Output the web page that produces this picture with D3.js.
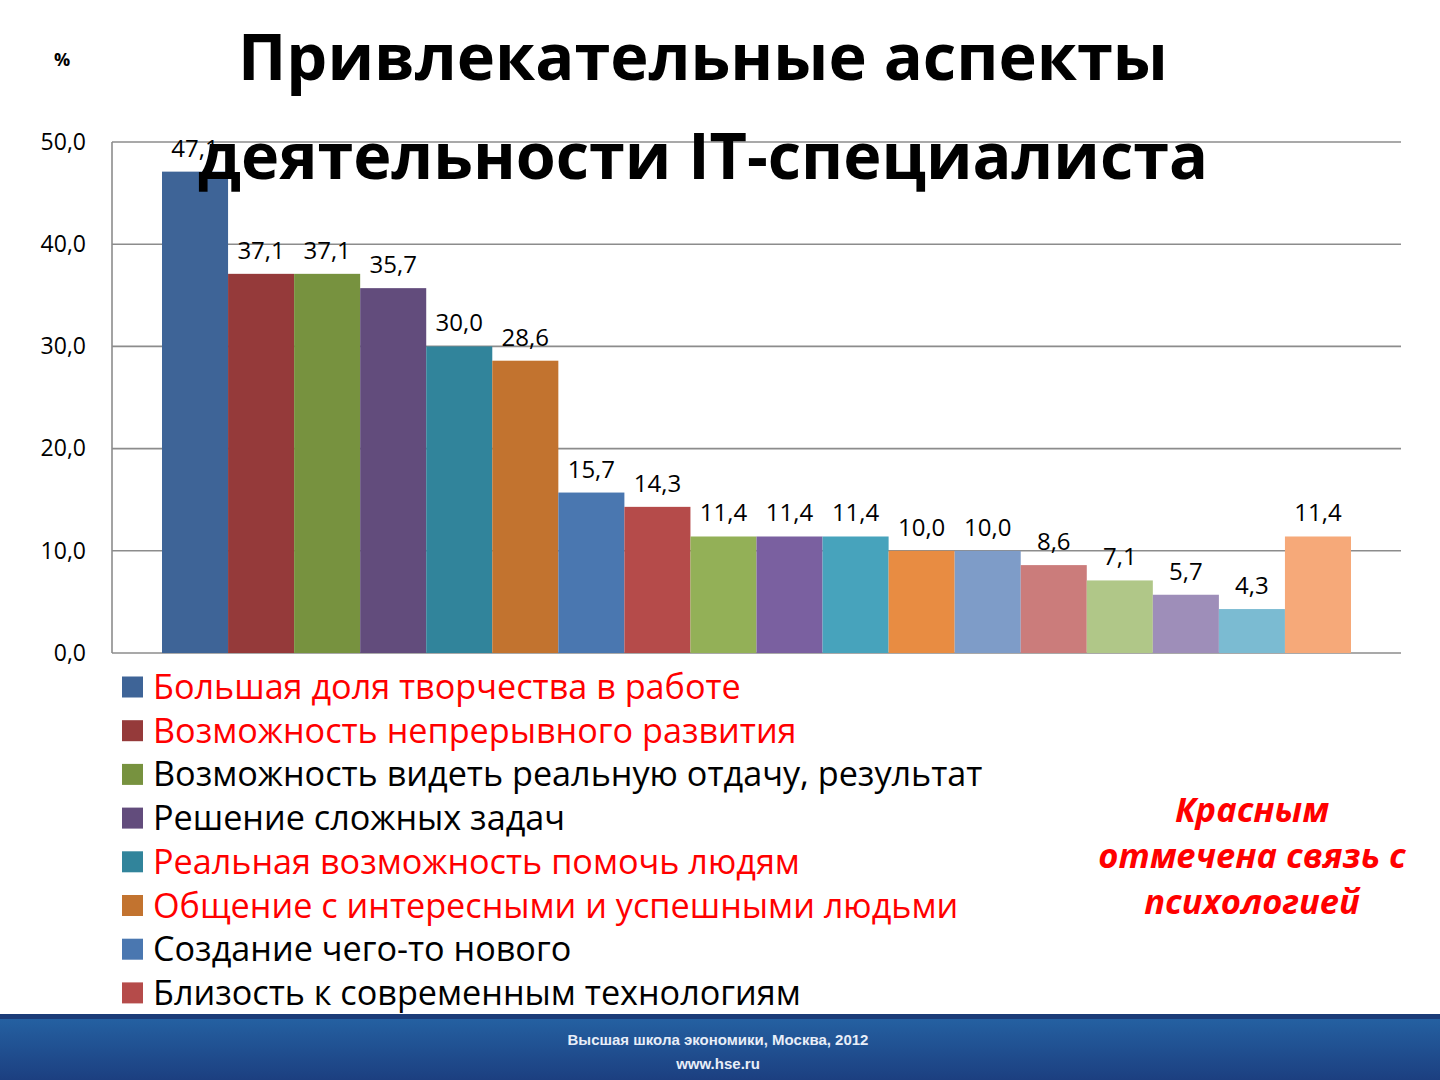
<!DOCTYPE html>
<html><head><meta charset="utf-8">
<script src="https://cdn.jsdelivr.net/npm/d3@7"></script>
<style>
html,body{margin:0;padding:0;background:#fff;}
svg{display:block;}
</style></head>
<body>
<svg id="c" width="1440" height="1080"></svg>
<script>
// ---- data ----
const seriesValues = [47.1, 37.1, 37.1, 35.7, 30.0, 28.6, 15.7, 14.3, 11.4, 11.4, 11.4, 10.0, 10.0, 8.6, 7.1, 5.7, 4.3, 11.4];
const seriesColors = ["#3E6497","#953A3A","#77923F","#624C7C","#31849B","#C2732F","#4A77B0","#B54B4A","#93B057","#7A60A0","#47A3BC","#E88C42","#7E9CC8","#CB7C7B","#B0C788","#9E8EB9","#7BBBD2","#F6A979"];
const legendLabels = [
  "Большая доля творчества в работе",
  "Возможность непрерывного развития",
  "Возможность видеть реальную отдачу, результат",
  "Решение сложных задач",
  "Реальная возможность помочь людям",
  "Общение с интересными и успешными людьми",
  "Создание чего-то нового",
  "Близость к современным технологиям"
];
const legendRed = [true, true, false, false, true, true, false, false];
const yTicks = [0, 10, 20, 30, 40, 50];
const titleLines = ["Привлекательные аспекты", "деятельности IT-специалиста"];
const noteLines = ["Красным", "отмечена связь с", "психологией"];
const footerLines = ["Высшая школа экономики, Москва, 2012", "www.hse.ru"];

const fmt = v => v.toFixed(1).replace(".", ",");
const svg = d3.select("#c");

// footer band
const defs = svg.append("defs");
const g1 = defs.append("linearGradient").attr("id","fg").attr("x1",0).attr("y1",0).attr("x2",0).attr("y2",1);
g1.append("stop").attr("offset","0").attr("stop-color","#2563a4");
g1.append("stop").attr("offset","1").attr("stop-color","#1c3f80");
svg.append("rect").attr("x",0).attr("y",1014).attr("width",1440).attr("height",66).attr("fill","url(#fg)");
svg.append("rect").attr("x",0).attr("y",1014).attr("width",1440).attr("height",5).attr("fill","#1b3c78");
svg.selectAll("text.foot").data(footerLines).join("text").attr("class","foot")
  .attr("x",718).attr("y",(d,i)=>1045+i*24).attr("text-anchor","middle")
  .attr("font-family","Liberation Sans, Arial").attr("font-weight","bold")
  .attr("font-size",15).attr("fill","#e8eef8").text(d=>d);

// scales
const x = d3.scaleBand().domain(d3.range(seriesValues.length)).range([112,1401]).paddingInner(0).paddingOuter(0.757);
const y = d3.scaleLinear().domain([0,50]).range([653,142]);

// gridlines
svg.append("g").selectAll("line").data(yTicks).join("line")
  .attr("x1",112).attr("x2",1401).attr("y1",d=>y(d)).attr("y2",d=>y(d))
  .attr("stroke","#8c8c8c").attr("stroke-width",1.6);
svg.append("line").attr("x1",112).attr("x2",112).attr("y1",y(50)).attr("y2",y(0))
  .attr("stroke","#8c8c8c").attr("stroke-width",1.6);

// y axis
const ax = svg.append("g").attr("transform","translate(112,0)")
  .call(d3.axisLeft(y).tickValues(yTicks).tickSize(0).tickPadding(26).tickFormat(fmt));
ax.select(".domain").remove();
ax.selectAll("text").attr("font-family","Open Sans, sans-serif").attr("font-size",23).attr("fill","#000");
svg.append("text").attr("x",62).attr("y",66).attr("text-anchor","middle")
  .attr("font-family","Open Sans, sans-serif").attr("font-weight","bold").attr("font-size",18).text("%");

// bars
svg.append("g").selectAll("rect").data(seriesValues).join("rect")
  .attr("x",(d,i)=>x(i)).attr("width",x.bandwidth())
  .attr("y",d=>y(d)).attr("height",d=>y(0)-y(d))
  .attr("fill",(d,i)=>seriesColors[i]);

// data labels
svg.append("g").selectAll("text").data(seriesValues).join("text")
  .attr("x",(d,i)=>x(i)+x.bandwidth()/2).attr("y",d=>y(d)-15)
  .attr("text-anchor","middle").attr("font-family","Open Sans, sans-serif").attr("font-size",24)
  .attr("fill","#000").text(fmt);

// title
svg.selectAll("text.title").data(titleLines).join("text").attr("class","title")
  .attr("x",703).attr("y",(d,i)=>80+i*99).attr("text-anchor","middle")
  .attr("font-family","Open Sans, sans-serif").attr("font-weight","bold").attr("font-size",64)
  .attr("textLength",(d,i)=>i===0?930:1010).attr("lengthAdjust","spacingAndGlyphs")
  .attr("fill","#000").text(d=>d);

// legend
const lg = svg.append("g");
const rows = lg.selectAll("g").data(legendLabels).join("g")
  .attr("transform",(d,i)=>`translate(122,${687+i*43.7})`);
rows.append("rect").attr("x",0).attr("y",-10.5).attr("width",21).attr("height",21)
  .attr("fill",(d,i)=>seriesColors[i]);
rows.append("text").attr("x",31).attr("y",12).attr("font-family","Open Sans, sans-serif")
  .attr("font-size",34.2).attr("fill",(d,i)=>legendRed[i]?"#FF0000":"#000").text(d=>d);

// note
svg.selectAll("text.note").data(noteLines).join("text").attr("class","note")
  .attr("x",1252).attr("y",(d,i)=>822+i*46).attr("text-anchor","middle")
  .attr("font-family","Open Sans, sans-serif").attr("font-weight","bold").attr("font-style","italic")
  .attr("font-size",34.5).attr("fill","#FF0000").text(d=>d);
</script>
</body></html>
